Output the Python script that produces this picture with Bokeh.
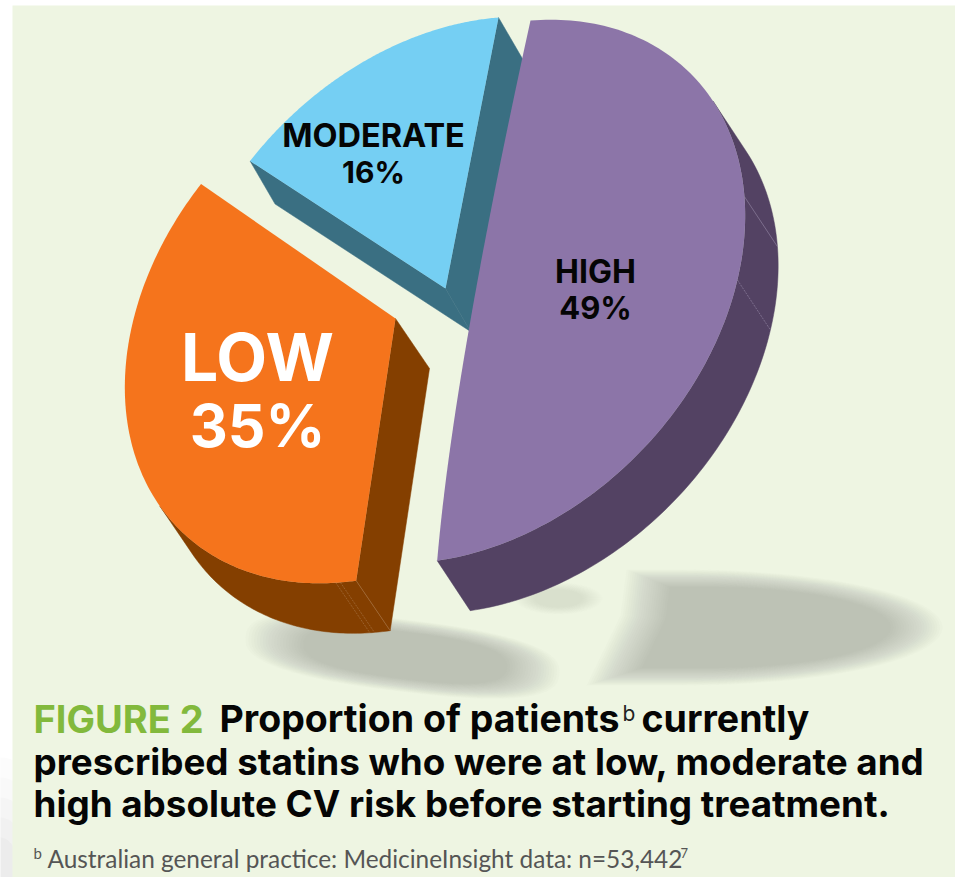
import numpy as np
from bokeh.core.properties import value
from bokeh.embed import file_html
from bokeh.models import Range1d
from bokeh.plotting import figure
from bokeh.resources import INLINE

# Risk groups, clockwise from the top of the disc
risk_groups = ["HIGH", "LOW", "MODERATE"]
shares = [49, 35, 16]

title_lines = [
    "prescribed statins who were at low, moderate and",
    "high absolute CV risk before starting treatment.",
]
footnote = "Australian general practice: MedicineInsight data: n=53,442"

PANEL = "#eef5e2"
FACE = {"HIGH": "#8c75a8", "LOW": "#f5741c", "MODERATE": "#75cff3"}
SIDE = {"HIGH": "#534263", "LOW": "#843f00", "MODERATE": "#3a6f82"}

# Tilted disc: conjugate radii of the ellipse, in screen pixels
U = np.array([55.0, -271.0])
V = np.array([264.0, -21.0])

# Exploded placement of each slice
CENTRE = {"HIGH": (475, 291), "LOW": (394, 311), "MODERATE": (443, 288)}
APEX = {"HIGH": (468, 331), "LOW": (395, 318), "MODERATE": (445, 288)}
DEPTH = {"HIGH": (33, 50), "LOW": (34, 50), "MODERATE": (25, 43)}

W, H = 955, 877
p = figure(width=W, height=H, output_backend="svg", toolbar_location=None,
           x_range=Range1d(0, W), y_range=Range1d(H, 0), min_border=0)
p.axis.visible = False
p.grid.visible = False
p.outline_line_color = None
p.background_fill_color = "#ffffff"
p.border_fill_color = "#ffffff"


def rim(group, start, end, n=160):
    t = np.radians(np.linspace(start, end, n))
    c = np.array(CENTRE[group], dtype=float)
    return np.outer(np.cos(t), U) + np.outer(np.sin(t), V) + c


def outer_wall(group, start, end):
    """Rim stretch whose extruded wall faces the viewer."""
    t = np.radians(np.linspace(start, end, 160))
    w = np.linalg.solve(np.column_stack([U, V]), np.array(DEPTH[group], dtype=float))
    keep = np.cos(t) * w[0] + np.sin(t) * w[1] > 0
    return rim(group, start, end)[keep]


def band(a, b, color):
    pts = np.vstack([a, b[::-1]])
    p.patch(pts[:, 0], pts[:, 1], fill_color=color, line_color=color, line_width=0.5)


def soft_shadow(outline, pivot, alpha, inner=0.7, layers=21):
    """Blurred shape: the outline stacked at shrinking scales about a pivot."""
    pivot = np.array(pivot, dtype=float)
    for k in np.linspace(1.0, inner, layers):
        pts = pivot + (outline - pivot) * k
        p.patch(pts[:, 0], pts[:, 1], fill_color="#8f9783", fill_alpha=alpha, line_color=None)


def ellipse_outline(cx, cy, rx, ry, tilt=0.0, power=2.0, start=0.0, end=360.0):
    t = np.radians(np.linspace(start, end, 120))
    ex = np.sign(np.cos(t)) * np.abs(np.cos(t)) ** (2 / power) * rx
    ey = np.sign(np.sin(t)) * np.abs(np.sin(t)) ** (2 / power) * ry
    a = np.radians(tilt)
    return np.column_stack([cx + ex * np.cos(a) - ey * np.sin(a), cy + ex * np.sin(a) + ey * np.cos(a)])


# Soft grey in the bottom left corner of the page
for r, a in zip(range(120, 20, -20), [0.03, 0.03, 0.04, 0.04, 0.05]):
    p.ellipse([0], [H], width=r, height=2 * r, fill_color="#9a9a9a", fill_alpha=a, line_color=None)

# Panel behind the chart
p.quad(left=[12], right=[W], top=[5], bottom=[H], fill_color=PANEL, line_color=None)

# Ground shadows: right one has a squared-off left end with a tail, left one is tilted.
# Layer opacity of 7/255 keeps the low-alpha blend neutral grey.
LAYER_ALPHA = 7 / 255
right_edge = ellipse_outline(680, 627, 262, 58, start=-90, end=90)
right_shadow = np.vstack([right_edge, [[586, 685], [620, 615], [626, 569]]])
soft_shadow(right_shadow, (770, 627), LAYER_ALPHA)
soft_shadow(ellipse_outline(402, 655, 158, 36, tilt=7, power=2.6), (410, 655), LAYER_ALPHA, inner=0.65)
soft_shadow(ellipse_outline(558, 598, 44, 16), (558, 598), 3 / 255, inner=0.55)

# Slice sweeps follow the shares
ends = np.cumsum(shares) / np.sum(shares) * 360.0
starts = np.concatenate([[0.0], ends[:-1]])
sweep = {g: (s, e) for g, s, e in zip(risk_groups, starts, ends)}

# MODERATE: two cut faces, drawn first because it sits at the back
g = "MODERATE"
s, e = sweep[g]
d = np.array(DEPTH[g])
apex = np.array(APEX[g], dtype=float)
arc = rim(g, s, e)
band(np.array([apex, arc[0]]), np.array([apex, arc[0]]) + d, SIDE[g])
band(np.array([apex, arc[-1]]), np.array([apex, arc[-1]]) + d, SIDE[g])
top = np.vstack([[apex], arc])
p.patch(top[:, 0], top[:, 1], fill_color=FACE[g], line_color=None)

# LOW: curved wall and the cut face towards the centre
g = "LOW"
s, e = sweep[g]
d = np.array(DEPTH[g])
apex = np.array(APEX[g], dtype=float)
arc = rim(g, s, e)
wall = outer_wall(g, s, e)
band(wall, wall + d, SIDE[g])
band(np.array([apex, arc[0]]), np.array([apex, arc[0]]) + d, SIDE[g])
top = np.vstack([[apex], arc])
p.patch(top[:, 0], top[:, 1], fill_color=FACE[g], line_color=None)
for t0 in (s + 3.4, s + 4.4):
    q = rim(g, t0, t0, 1)[0]
    p.line([q[0], q[0] + d[0]], [q[1], q[1] + d[1]], line_color="#b98d66", line_width=0.7,
           line_alpha=0.6, line_dash="2 1")
q = arc[0]
p.line([q[0], q[0] + d[0]], [q[1], q[1] + d[1]], line_color="#b98d66", line_width=0.7, line_alpha=0.6)

# HIGH: curved wall, then a face whose straight side bows slightly through the apex
g = "HIGH"
s, e = sweep[g]
d = np.array(DEPTH[g])
apex = np.array(APEX[g], dtype=float)
arc = rim(g, s, e)
wall = outer_wall(g, s, e)
band(wall, wall + d, SIDE[g])
end_pt, start_pt = arc[-1], arc[0]
ctrl = 2 * apex - 0.5 * (end_pt + start_pt)
ts = np.linspace(0, 1, 30)[:, None]
bow = (1 - ts) ** 2 * end_pt + 2 * ts * (1 - ts) * ctrl + ts ** 2 * start_pt
top = np.vstack([arc, bow])
p.patch(top[:, 0], top[:, 1], fill_color=FACE[g], line_color=None)
for t0, dash in ((74, "solid"), (92, "2 1")):
    q = rim(g, t0, t0, 1)[0]
    p.line([q[0], q[0] + d[0]], [q[1], q[1] + d[1]], line_color="#9d90ad", line_width=0.8,
           line_alpha=0.7, line_dash=dash)


def label(x, baseline, text, size, color="#050505", font="Inter", style="bold", align="left"):
    # The SVG text anchor sits a fixed fraction of the size above the drawn baseline
    p.text([x], [baseline - 0.39 * size], text=[text], text_font=value(font), text_font_style=style,
           text_font_size=f"{size}px", text_color=color, text_align=align,
           text_baseline="alphabetic")


# Slice labels
label(257, 382, "LOW", 66, "#ffffff", align="center")
label(257, 448, f"{shares[1]}%", 59, "#ffffff", align="center")
label(373, 148, "MODERATE", 32.5, align="center")
label(373, 183, f"{shares[2]}%", 30, align="center")
label(595, 283, "HIGH", 32, align="center")
label(595, 319, f"{shares[0]}%", 31, align="center")

# Caption
label(33, 733, "FIGURE 2", 38, "#82b93c")
label(219, 733, "Proportion of patients", 37.5)
label(622, 721, "b", 21, "#222222", style="normal")
label(641, 733, "currently", 37.5)
label(33, 775, title_lines[0], 36.8)
label(33, 817, title_lines[1], 36.8)

# Footnote
label(33, 858, "b", 15, "#555555", font="Lato", style="normal")
label(47, 868, footnote, 24.4, "#555555", font="Lato", style="normal")
label(680, 858, "7", 13, "#555555", font="Lato", style="normal")

open("out.html", "w").write(file_html(p, INLINE))
